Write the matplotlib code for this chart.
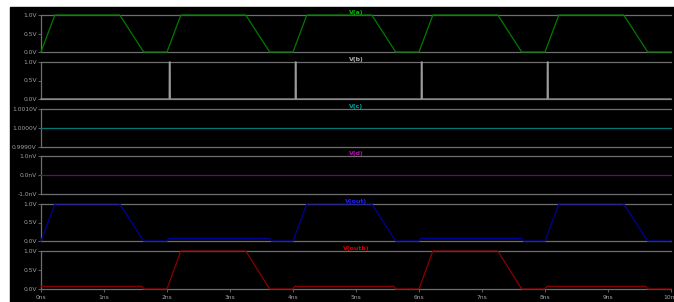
import matplotlib
matplotlib.use("Agg")
import matplotlib.pyplot as plt
from matplotlib.patches import Rectangle

# traces (time in ns, value in V)
t_a = [0, 0.22, 1.25, 1.63, 2.0, 2.22, 3.25, 3.63, 4.0, 4.22, 5.25, 5.63,
       6.0, 6.22, 7.25, 7.63, 8.0, 8.22, 9.25, 9.63, 10]
v_a = [0, 1, 1, 0, 0, 1, 1, 0, 0, 1, 1, 0, 0, 1, 1, 0, 0, 1, 1, 0, 0]

t_b = [0, 2.035, 2.037, 2.05, 2.052, 4.035, 4.037, 4.05, 4.052, 6.035, 6.037,
       6.05, 6.052, 8.035, 8.037, 8.05, 8.052, 10]
v_b = [0, 0, 1, 1, 0, 0, 1, 1, 0, 0, 1, 1, 0, 0, 1, 1, 0, 0]

t_c = [0, 10]
v_c = [1.0, 1.0]

t_d = [0, 10]
v_d = [0.0, 0.0]

t_out = [0, 0.22, 1.25, 1.63, 2.0, 2.03, 3.63, 3.66, 4.0, 4.22, 5.25, 5.63,
         6.0, 6.03, 7.63, 7.66, 8.0, 8.22, 9.25, 9.63, 10]
v_out = [0, 1, 1, 0, 0, 0.07, 0.07, 0, 0, 1, 1, 0, 0, 0.07, 0.07, 0, 0, 1, 1, 0, 0]

t_outb = [0, 1.6, 1.63, 2.0, 2.22, 3.25, 3.63, 4.0, 4.03, 5.6, 5.63, 6.0,
          6.22, 7.25, 7.63, 8.0, 8.03, 9.6, 9.63, 10]
v_outb = [0.07, 0.07, 0, 0, 1, 1, 0, 0, 0.07, 0.07, 0, 0, 1, 1, 0, 0, 0.07, 0.07, 0, 0]

names = ["V(a)", "V(b)", "V(c)", "V(d)", "V(out)", "V(outb)"]
line_colors = ["#007a00", "#9a9a9a", "#007878", "#7a007a", "#00009a", "#8a0000"]
title_colors = ["#00c000", "#b0b0b0", "#00a0a0", "#c000c0", "#2020ff", "#d00000"]
ylims = [(0, 1), (0, 1), (0.999, 1.001), (-1e-9, 1e-9), (0, 1), (0, 1)]
yticks = [[0, 0.5, 1], [0, 0.5, 1], [0.999, 1.0, 1.001], [-1e-9, 0, 1e-9],
          [0, 0.5, 1], [0, 0.5, 1]]
ylabels = [["0.0V", "0.5V", "1.0V"], ["0.0V", "0.5V", "1.0V"],
           ["0.9990V", "1.0000V", "1.0010V"], ["-1.0nV", "0.0nV", "1.0nV"],
           ["0.0V", "0.5V", "1.0V"], ["0.0V", "0.5V", "1.0V"]]
xticks = list(range(11))
xlabels = [f"{i}ns" for i in xticks]

series = [(t_a, v_a), (t_b, v_b), (t_c, v_c), (t_d, v_d), (t_out, v_out), (t_outb, v_outb)]
tops = [15, 62, 109, 156, 204, 251]
bottoms = [52, 99, 147, 194, 241, 289]

W, H = 674, 302
fig = plt.figure(figsize=(W / 100, H / 100), dpi=100, facecolor="white")
fig.patches.append(Rectangle((10 / W, 0), 1, 1 - 7 / H, transform=fig.transFigure,
                             color="black", zorder=-10))

grey = "#6e6e6e"
for i, (t, v) in enumerate(series):
    ax = fig.add_axes([41 / W, 1 - bottoms[i] / H, 630 / W, (bottoms[i] - tops[i]) / H])
    ax.set_facecolor("none")
    ax.plot(t, v, color=line_colors[i], lw=0.9, zorder=3, clip_on=False)
    ax.set_xlim(0, 10)
    ax.set_ylim(*ylims[i])
    ax.set_yticks(yticks[i])
    ax.set_yticklabels(ylabels[i])
    for s in ["top", "bottom", "left"]:
        ax.spines[s].set_color(grey)
        ax.spines[s].set_linewidth(0.9)
    ax.spines["right"].set_visible(False)
    ax.tick_params(axis="y", colors=grey, labelcolor="#a0a0a0", labelsize=4.3,
                   length=2, width=0.6, pad=1)
    if i == len(series) - 1:
        ax.set_xticks(xticks)
        ax.set_xticklabels(xlabels)
        ax.tick_params(axis="x", colors=grey, labelcolor="#a0a0a0", labelsize=4.3,
                       length=2, width=0.6, pad=2)
    else:
        ax.set_xticks([])
    ax.text(0.5, 1.0, names[i], transform=ax.transAxes, ha="center", va="bottom",
            color=title_colors[i], fontsize=4.5, fontweight="bold")

fig.savefig("out.png", dpi=100, facecolor="white")
